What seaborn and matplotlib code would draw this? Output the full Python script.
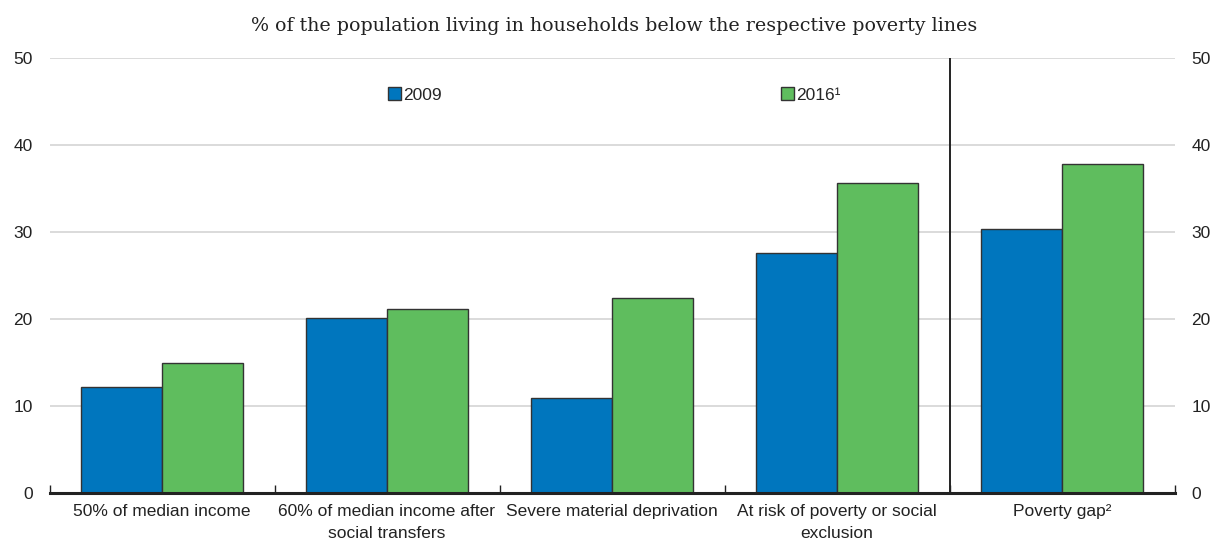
import matplotlib
matplotlib.use("Agg")
import matplotlib.pyplot as plt
import seaborn as sns
import pandas as pd
from matplotlib.patches import Patch

categories = ["50% of median income", "60% of median income after\nsocial transfers",
              "Severe material deprivation", "At risk of poverty or social\nexclusion",
              "Poverty gap²"]
values_2009 = [12.2, 20.1, 10.9, 27.6, 30.3]
values_2016 = [14.9, 21.1, 22.4, 35.6, 37.8]
series = ["2009", "2016¹"]
yticks = [0, 10, 20, 30, 40, 50]

df = pd.DataFrame({
    "category": categories * 2,
    "value": values_2009 + values_2016,
    "year": [series[0]] * len(categories) + [series[1]] * len(categories),
})

sns.set_theme(style="white")
plt.rcParams["font.family"] = ["Liberation Sans", "DejaVu Sans"]

blue = "#0076BE"
green = "#5FBD5E"
edge = "#333333"

fig = plt.figure(figsize=(12.21, 5.45), dpi=100)
ax = fig.add_axes([49.5 / 1221, 1 - 493 / 545, (1174.5 - 49.5) / 1221, (493 - 58) / 545])

sns.barplot(data=df, x="category", y="value", hue="year", order=categories,
            hue_order=series, palette=[blue, green], saturation=1, width=0.716, gap=0,
            edgecolor=edge, linewidth=1.0, legend=False, ax=ax, zorder=3)

ax.set_xlim(-0.5, len(categories) - 0.5)
ax.set_ylim(0, 50)
ax.set_yticks(yticks)
ax.grid(axis="y", color="#d4d4d4", linewidth=1.2, zorder=0)
ax.grid(axis="x", visible=False)
for s in ["left", "right", "top"]:
    ax.spines[s].set_visible(False)
ax.spines["bottom"].set_color("#222222")
ax.spines["bottom"].set_linewidth(2.2)
ax.spines["bottom"].set_zorder(5)

ax.set_xlabel("")
ax.set_ylabel("")
ax.tick_params(axis="x", which="major", length=0, pad=8, labelsize=12.5, labelcolor="#222222")
for lbl in ax.get_xticklabels():
    lbl.set_linespacing(1.55)
ax.set_xticks([i - 0.5 for i in range(len(categories) + 1)], minor=True)
ax.tick_params(axis="x", which="minor", bottom=True, length=6, width=1.0,
               color="#222222", direction="in")
ax.tick_params(axis="y", length=0, pad=12, labelsize=12.5, labelcolor="#222222",
               labelleft=True, labelright=True, left=False, right=False)

# separator line before last category
ax.axvline(3.5, ymin=0, ymax=1, color="#222222", linewidth=1.4, zorder=4)

# legends
h1 = [Patch(facecolor=blue, edgecolor=edge, linewidth=1.0)]
h2 = [Patch(facecolor=green, edgecolor=edge, linewidth=1.0)]
kw = dict(frameon=False, fontsize=12.5, handlelength=0.75, handleheight=0.75,
          handletextpad=0.1, borderpad=0, borderaxespad=0, loc="center left")
leg1 = fig.legend(h1, [series[0]], bbox_to_anchor=(388 / 1221, 1 - 95 / 545), **kw)
leg2 = fig.legend(h2, [series[1]], bbox_to_anchor=(781 / 1221, 1 - 95 / 545), **kw)

fig.text(0.503, 1 - 26 / 545, "% of the population living in households below the respective poverty lines",
         ha="center", va="center", fontsize=13.7, family=["DejaVu Serif"], color="#222222")

fig.savefig("out.png", dpi=100)
